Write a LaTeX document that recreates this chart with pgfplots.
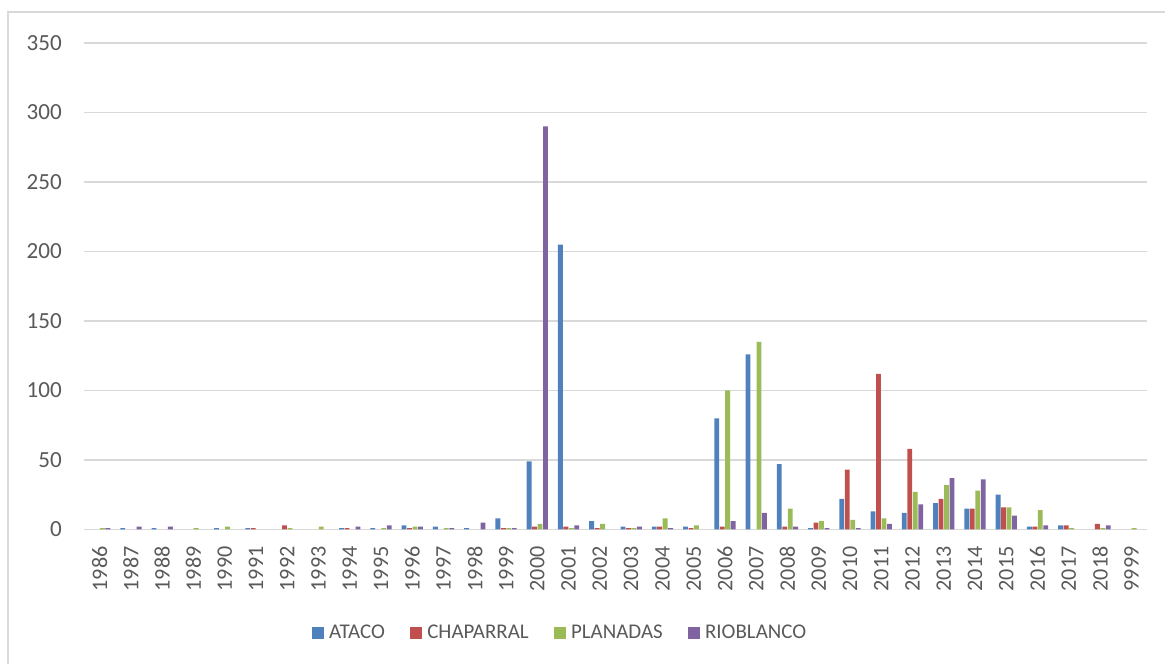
\documentclass[border=0pt]{standalone}
\usepackage{pgfplots}
\pgfplotsset{compat=1.18}
\usepackage{fontspec}
\setmainfont{Carlito}
\definecolor{cA}{HTML}{4F81BD}
\definecolor{cC}{HTML}{C0504D}
\definecolor{cP}{HTML}{9BBB59}
\definecolor{cR}{HTML}{8064A2}
\definecolor{txt}{HTML}{595959}
\definecolor{grd}{HTML}{D9D9D9}
\begin{document}
\begin{tikzpicture}
\useasboundingbox (-63pt,-100.875pt) rectangle (810.75pt,397.125pt);
\draw[grd, line width=0.8pt] (-57pt,-100.875pt) -- (-57pt,388.125pt) -- (810.75pt,388.125pt);
\begin{axis}[
  at={(0pt,0pt)}, anchor=south west,
  scale only axis, width=797.25pt, height=364.875pt,
  xmin=-0.5, xmax=33.5, ymin=0, ymax=350,
  ybar, bar width=0.155,
  xtick={0,...,33},
  xticklabels={1986,1987,1988,1989,1990,1991,1992,1993,1994,1995,1996,1997,1998,1999,2000,2001,2002,2003,2004,2005,2006,2007,2008,2009,2010,2011,2012,2013,2014,2015,2016,2017,2018,9999},
  ytick={0,50,...,350},
  major tick length=0pt,
  /pgf/number format/assume math mode=true,
  ticklabel style={text=txt, inner sep=0pt},
  xticklabel style={font=\fontsize{16.6}{20}\selectfont, yshift=-12.5pt, rotate=90, anchor=east},
  yticklabel style={font=\fontsize{17.3}{20}\selectfont, anchor=east, xshift=-16.5pt},
  axis x line*=bottom, axis y line*=left,
  y axis line style={draw=none},
  x axis line style={grd, line width=1pt, -},
  ymajorgrids, grid style={grd, line width=1.1pt},
  legend columns=4,
  legend style={at={(170.8pt,-77.6pt)}, anchor=west, draw=none, fill=none,
    font=\fontsize{15.7}{19}\selectfont, text=txt, inner sep=0pt,
    nodes={inner sep=0pt, anchor=west},
    /tikz/every odd column/.append style={column sep=4pt},
    /tikz/every even column/.append style={column sep=19pt}},
  legend image code/.code={\fill[#1] (0pt,-4.4pt) rectangle (8.8pt,4.4pt);},
]
\addplot[fill=cA, draw=none, bar shift=-0.2625] coordinates {
(1,1)(2,1)(4,1)(5,1)(8,1)(9,1)(10,3)(11,2)(12,1)(13,8)(14,49)(15,205)(16,6)(17,2)(18,2)(19,2)(20,80)(21,126)(22,47)(23,1)(24,22)(25,13)(26,12)(27,19)(28,15)(29,25)(30,2)(31,3)};
\addlegendentry{ATACO}
\addplot[fill=cC, draw=none, bar shift=-0.0875] coordinates {
(5,1)(6,3)(8,1)(10,1)(13,1)(14,2)(15,2)(16,1)(17,1)(18,2)(19,1)(20,2)(22,2)(23,5)(24,43)(25,112)(26,58)(27,22)(28,15)(29,16)(30,2)(31,3)(32,4)};
\addlegendentry{CHAPARRAL}
\addplot[fill=cP, draw=none, bar shift=0.0875] coordinates {
(0,1)(3,1)(4,2)(6,1)(7,2)(9,1)(10,2)(11,1)(13,1)(14,4)(15,1)(16,4)(17,1)(18,8)(19,3)(20,100)(21,135)(22,15)(23,6)(24,7)(25,8)(26,27)(27,32)(28,28)(29,16)(30,14)(31,1)(32,1)(33,1)};
\addlegendentry{PLANADAS}
\addplot[fill=cR, draw=none, bar shift=0.2625] coordinates {
(0,1)(1,2)(2,2)(8,2)(9,3)(10,2)(11,1)(12,5)(13,1)(14,290)(15,3)(17,2)(18,1)(20,6)(21,12)(22,2)(23,1)(24,1)(25,4)(26,18)(27,37)(28,36)(29,10)(30,3)(32,3)};
\addlegendentry{RIOBLANCO}
\end{axis}
\end{tikzpicture}
\end{document}
